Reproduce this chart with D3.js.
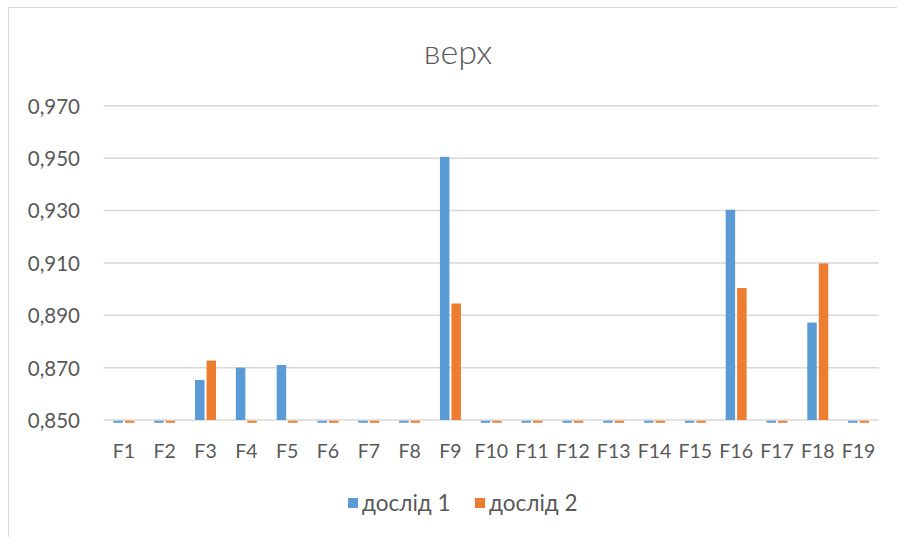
<!DOCTYPE html>
<html>
<head>
<meta charset="utf-8">
<script src="https://cdn.jsdelivr.net/npm/d3@7/dist/d3.min.js"></script>
<style>
  html, body { margin: 0; padding: 0; background: #fff; }
  svg { display: block; }
  text { font-family: Lato, "Open Sans", sans-serif; fill: #595959; }
</style>
</head>
<body>
<svg id="chart" width="897" height="537"></svg>
<script>
const title = "верх";
const categories = ["F1","F2","F3","F4","F5","F6","F7","F8","F9","F10","F11","F12","F13","F14","F15","F16","F17","F18","F19"];
const seriesNames = ["дослід 1", "дослід 2"];
const series1 = [0, 0, 0.8653, 0.8700, 0.8710, 0, 0, 0, 0.9505, 0, 0, 0, 0, 0, 0, 0.9303, 0, 0.8872, 0];
const series2 = [0, 0, 0.8727, 0, 0, 0, 0, 0, 0.8945, 0, 0, 0, 0, 0, 0, 0.9004, 0, 0.9098, 0];
const yTicks = [0.850, 0.870, 0.890, 0.910, 0.930, 0.950, 0.970];
const colors = ["#5B9BD5", "#ED7D31"];

const svg = d3.select("#chart");

// chart border
svg.append("rect").attr("x", 8.5).attr("y", 7.5).attr("width", 900).attr("height", 540)
  .attr("fill", "#fff").attr("stroke", "#d9d9d9").attr("stroke-width", 1);

const plot = { left: 103.5, right: 879, top: 105.8, bottom: 420 };

const y = d3.scaleLinear().domain([yTicks[0], yTicks[yTicks.length - 1]]).range([plot.bottom, plot.top]);
const x0 = d3.scaleBand().domain(categories).range([plot.left, plot.right]).paddingInner(0.486).paddingOuter(0.243);
const x1 = d3.scaleBand().domain(seriesNames).range([0, x0.bandwidth()]).paddingInner(0.174).paddingOuter(0);

const fmt = v => d3.format(".3f")(v).replace(".", ",");

// gridlines
svg.append("g").selectAll("line").data(yTicks).join("line")
  .attr("x1", plot.left).attr("x2", plot.right)
  .attr("y1", d => y(d)).attr("y2", d => y(d))
  .attr("stroke", "#d9d9d9").attr("stroke-width", 1.5);

// y axis labels
const yAxis = d3.axisLeft(y).tickValues(yTicks).tickFormat(fmt).tickSize(0).tickPadding(0);
const gy = svg.append("g").attr("transform", `translate(80,0)`).call(yAxis);
gy.select(".domain").remove();
gy.selectAll("text").attr("font-size", 20.5).attr("font-family", "Lato, sans-serif").attr("fill", "#595959").attr("dy", "0.36em");

// x axis labels
const xAxis = d3.axisBottom(x0).tickSize(0).tickPadding(0);
const gx = svg.append("g").attr("transform", `translate(0,${plot.bottom + 24})`).call(xAxis);
gx.select(".domain").remove();
gx.selectAll("text").attr("font-size", 19.5).attr("font-family", "Lato, sans-serif").attr("fill", "#595959").attr("dy", "0.72em");

// bars
const data = categories.map((c, i) => ({ cat: c, vals: [series1[i], series2[i]] }));
const minV = y.domain()[0];
const groups = svg.append("g").selectAll("g").data(data).join("g")
  .attr("transform", d => `translate(${x0(d.cat)},0)`);
groups.selectAll("rect").data(d => d.vals.map((v, k) => ({ v, k })))
  .join("rect")
  .attr("x", d => x1(seriesNames[d.k]))
  .attr("width", x1.bandwidth())
  .attr("y", d => d.v > minV ? y(d.v) : y(minV) + 0.75)
  .attr("height", d => d.v > minV ? y(minV) - y(d.v) : 2)
  .attr("fill", d => colors[d.k]);

// title
svg.append("text").attr("x", 458).attr("y", 64).attr("text-anchor", "middle")
  .attr("font-size", 34).attr("font-weight", 300).attr("fill", "#595959").text(title);

// legend
const legend = svg.append("g");
const legendItems = [{ name: seriesNames[0], x: 348 }, { name: seriesNames[1], x: 475 }];
legendItems.forEach((it, k) => {
  legend.append("rect").attr("x", it.x).attr("y", 498).attr("width", 10).attr("height", 10).attr("fill", colors[k]);
  legend.append("text").attr("x", it.x + 14).attr("y", 511).attr("font-size", 22.5).attr("fill", "#595959").text(it.name);
});
</script>
</body>
</html>
